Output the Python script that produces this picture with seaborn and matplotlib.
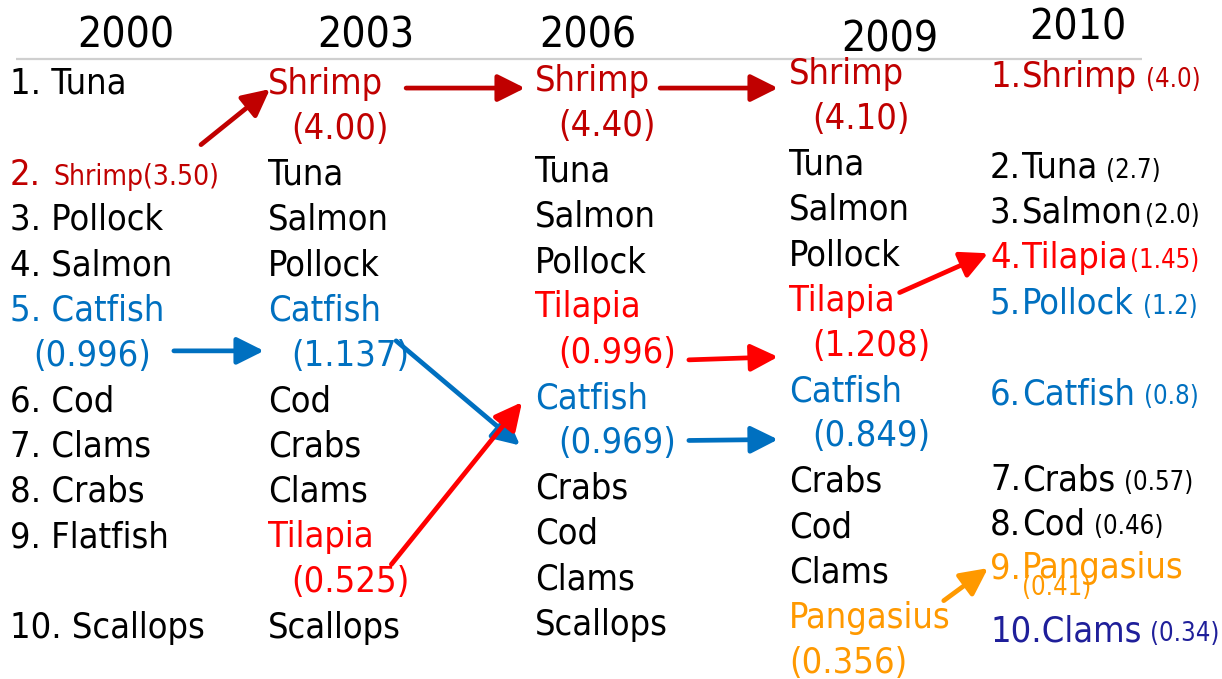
import matplotlib
matplotlib.use("Agg")
import matplotlib.pyplot as plt
from matplotlib import font_manager as fm
from matplotlib.font_manager import FontProperties
import seaborn as sns

# ---------------- data ----------------
years = ["2000", "2003", "2006", "2009", "2010"]

rank_2000 = ["Tuna", "Shrimp", "Pollock", "Salmon", "Catfish", "Cod", "Clams", "Crabs", "Flatfish", "Scallops"]
rank_2003 = ["Shrimp", "Tuna", "Salmon", "Pollock", "Catfish", "Cod", "Crabs", "Clams", "Tilapia", "Scallops"]
rank_2006 = ["Shrimp", "Tuna", "Salmon", "Pollock", "Tilapia", "Catfish", "Crabs", "Cod", "Clams", "Scallops"]
rank_2009 = ["Shrimp", "Tuna", "Salmon", "Pollock", "Tilapia", "Catfish", "Crabs", "Cod", "Clams", "Pangasius"]
rank_2010 = ["Shrimp", "Tuna", "Salmon", "Tilapia", "Pollock", "Catfish", "Crabs", "Cod", "Pangasius", "Clams"]

vals_2000 = {"Shrimp": "3.50", "Catfish": "0.996"}
vals_2003 = {"Shrimp": "4.00", "Catfish": "1.137", "Tilapia": "0.525"}
vals_2006 = {"Shrimp": "4.40", "Tilapia": "0.996", "Catfish": "0.969"}
vals_2009 = {"Shrimp": "4.10", "Tilapia": "1.208", "Catfish": "0.849", "Pangasius": "0.356"}
vals_2010 = ["4.0", "2.7", "2.0", "1.45", "1.2", "0.8", "0.57", "0.46", "0.41", "0.34"]

# highlighted species colours
species_color = {"Shrimp": "#C00000", "Tilapia": "#FF0000", "Catfish": "#0070C0", "Pangasius": "#FF9900"}
color_2010 = {"Pollock": "#0070C0", "Clams": "#1F1F9A"}

# arrows: (colour key, source line id, target line id)
links = [
    ("Shrimp", "2000:Shrimp", "2003:Shrimp"),
    ("Shrimp", "2003:Shrimp", "2006:Shrimp"),
    ("Shrimp", "2006:Shrimp", "2009:Shrimp"),
    ("Catfish", "2000:Catfish_v", "2003:Catfish_v"),
    ("Catfish", "2003:Catfish_v", "2006:Catfish_v"),
    ("Tilapia", "2003:Tilapia_v", "2006:Catfish"),
    ("Tilapia", "2006:Tilapia_v", "2009:Tilapia_v"),
    ("Catfish", "2006:Catfish_v", "2009:Catfish_v"),
    ("Tilapia", "2009:Tilapia", "2010:Tilapia"),
    ("Pangasius", "2009:Pangasius", "2010:Pangasius"),
]
# arrow geometry style: (src pad from right edge, src dy, dst pad from left edge, dst dy)
link_style = [
    (-18, -27, 2, 8), (23, 7, -10, 10), (10, 10, -11, 17), (23, -2, -27, -2),
    (-13, -12, -38, 5), (-18, -15, -13, 7), (13, 10, -34, 14), (13, 0, -34, 6),
    (5, -5, -2, -2), (-7, -14, -2, 3),
]

# ---------------- layout ----------------
W, H = 1222, 679
col_x = [10, 268, 535, 789, 990]
col_base = [94, 94, 91, 84, 87]
year_x = [126, 366, 588, 890, 1078]
year_base = [48, 48, 48, 52, 40]
row_step = 45.3
indent = 23
tab_x = 1022
rows_2000 = [0, 2, 3, 4, 5, 7, 8, 9, 10, 12]
rows_2010 = [0, 2, 3, 4, 5, 7, 8.9, 9.87, 10.84, 12.23]

sns.set_theme(style="white")

# font choice
family = "DejaVu Sans"
stretch = "normal"
for fam in ["DejaVu Sans", "Noto Sans"]:
    p = fm.findfont(FontProperties(family=fam, stretch="condensed"), fallback_to_default=False)
    if "ondensed" in p:
        family, stretch = fam, "condensed"
        break
plt.rcParams["font.family"] = [family, "DejaVu Sans"]
plt.rcParams["font.stretch"] = stretch

fig = plt.figure(figsize=(W / 100, H / 100), dpi=100)
ax = fig.add_axes([0, 0, 1, 1])
ax.set_xlim(0, W)
ax.set_ylim(H, 0)
ax.axis("off")
renderer = fig.canvas.get_renderer()
inv = ax.transData.inverted()

# scale font so that "Salmon" is about 121 px wide (reference metrics)
probe = ax.text(0, 0, "Salmon", fontsize=26.6)
bb = probe.get_window_extent(renderer)
k = 121.0 / bb.width
probe.remove()
SIZES = {"year": 31.5 * k, "big": 26.6 * k, "mid": 20.8 * k, "small": 19.0 * k}

boxes = {}


def draw_runs(x, baseline, runs, color, key=None):
    cur = x
    first = None
    for text, sk, gap in runs:
        if isinstance(gap, str):
            cur = float(gap)
        else:
            cur += gap
        t = ax.text(cur, baseline, text, fontsize=SIZES[sk], color=color, va="baseline", ha="left")
        b = t.get_window_extent(renderer)
        (x0, _), (x1, _) = inv.transform([[b.x0, b.y0], [b.x1, b.y1]])
        if first is None:
            first = x0
        cur = x1
    main_px = max(SIZES[r[1]] for r in runs) / 0.72
    center = baseline - 0.36 * main_px
    if key:
        boxes[key] = (first, cur, center)


# years
for yr, xx, yb in zip(years, year_x, year_base):
    ax.text(xx, yb, yr, fontsize=SIZES["year"], color="black", ha="center", va="baseline")

# rule line under years
ax.hlines(59, 16, 1142, colors="#CFCFCF", lw=1.6)

# 2000 column
for i, (name, r) in enumerate(zip(rank_2000, rows_2000)):
    col = species_color.get(name, "black")
    base = col_base[0] + r * row_step
    if name == "Shrimp":
        draw_runs(col_x[0], base, [(f"{i + 1}.", "big", 0), (f"Shrimp({vals_2000[name]})", "mid", 12)], col, f"2000:{name}")
    else:
        draw_runs(col_x[0], base, [(f"{i + 1}. {name}", "big", 0)], col, f"2000:{name}")
        if name in vals_2000:
            draw_runs(col_x[0] + indent, base + row_step, [(f"({vals_2000[name]})", "big", 0)], col, f"2000:{name}_v")

# 2003 / 2006 / 2009 columns
for c, (yr, ranks, vals) in enumerate([("2003", rank_2003, vals_2003), ("2006", rank_2006, vals_2006),
                                       ("2009", rank_2009, vals_2009)], start=1):
    r = 0
    for name in ranks:
        col = species_color.get(name, "black")
        base = col_base[c] + r * row_step
        draw_runs(col_x[c], base, [(name, "big", 0)], col, f"{yr}:{name}")
        r += 1
        if name in vals:
            ind = 0 if name == "Pangasius" else indent
            draw_runs(col_x[c] + ind, col_base[c] + r * row_step, [(f"({vals[name]})", "big", 0)], col, f"{yr}:{name}_v")
            r += 1

# 2010 column
for i, (name, v, r) in enumerate(zip(rank_2010, vals_2010, rows_2010)):
    col = species_color.get(name, color_2010.get(name, "black"))
    if name in ("Pollock", "Clams"):
        col = color_2010[name]
    base = col_base[4] + r * row_step
    tight = name in ("Salmon", "Tilapia")
    if i + 1 == 10:
        runs = [(f"{i + 1}.{name}", "big", 0), (f"({v})", "small", 8)]
    elif name == "Pangasius":
        runs = [(f"{i + 1}.", "big", 0), (name, "big", str(tab_x))]
    else:
        runs = [(f"{i + 1}.", "big", 0), (name, "big", str(tab_x)), (f"({v})", "small", 2 if tight else 9)]
    draw_runs(col_x[4], base, runs, col, f"2010:{name}")
    if name == "Pangasius":
        # in the reference this value sits partly over the name
        draw_runs(tab_x, base + 17, [(f"({v})", "small", 0)], col, "2010:Pangasius_v")

# arrows
for (ck, src, dst), (sp, sdy, dp, ddy) in zip(links, link_style):
    color = species_color[ck]
    sx0, sx1, sc = boxes[src]
    dx0, dx1, dc = boxes[dst]
    start = (sx1 + sp, sc + sdy)
    end = (dx0 + dp, dc + ddy)
    ax.annotate("", xy=end, xytext=start,
                arrowprops=dict(arrowstyle="-|>,head_length=1.1,head_width=0.55", lw=3.4,
                                color=color, mutation_scale=15, shrinkA=0, shrinkB=0))

fig.savefig("out.png", dpi=100, facecolor="white")
